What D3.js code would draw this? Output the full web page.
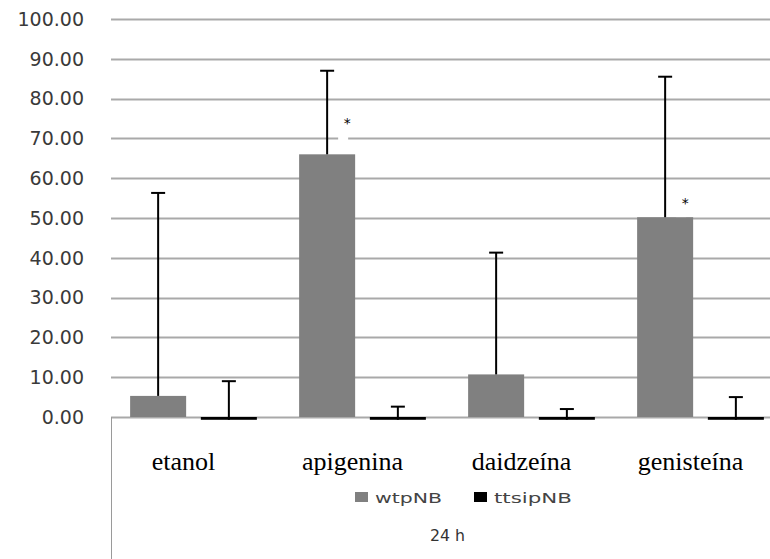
<!DOCTYPE html>
<html>
<head>
<meta charset="utf-8">
<script src="https://cdn.jsdelivr.net/npm/d3@7"></script>
<style>
  html, body { margin: 0; padding: 0; background: #fff; }
  svg { display: block; }
</style>
</head>
<body>
<svg id="chart" width="770" height="559"></svg>
<script>
// ── Data ─────────────────────────────────────────────────────────────
const categories = ['etanol', 'apigenina', 'daidzeína', 'genisteína'];
const series = ['wtpNB', 'ttsipNB'];
const wtpNB = [5.3, 66.0, 10.7, 50.2];
const wtpErr = [51.0, 21.0, 30.6, 35.3];
const ttsipNB = [-0.7, -0.7, -0.7, -0.7];
const ttsipErr = [9.7, 3.3, 2.7, 5.7];
const signif = ['', '*', '', '*'];      // marks over wtpNB bars
const signifAt = [null, 74, null, 54];  // height of the mark (data units)
const yTicks = [0, 10, 20, 30, 40, 50, 60, 70, 80, 90, 100];
const timeLabel = '24 h';

// ── Layout ───────────────────────────────────────────────────────────
const svg = d3.select('#chart');
const W = 770, H = 559;
const left = 111, y0px = 417, yTop = 19;
const colors = { wtpNB: '#808080', ttsipNB: '#000000' };

const y = d3.scaleLinear().domain([0, 100]).range([y0px, yTop]);
const x = d3.scaleBand().domain(categories).range([109, 785])
  .paddingInner(0.25).paddingOuter(0.125);
const x1 = d3.scaleBand().domain(series).range([0, x.bandwidth()])
  .paddingInner(0.208);

const rows = categories.map((c, i) => ({
  cat: c,
  bars: [
    { key: 'wtpNB', v: wtpNB[i], e: wtpErr[i] },
    { key: 'ttsipNB', v: ttsipNB[i], e: ttsipErr[i] }
  ],
  mark: signif[i], markAt: signifAt[i]
}));

// gridlines
svg.append('g').selectAll('line')
  .data(yTicks)
  .join('line')
  .attr('x1', left).attr('x2', W)
  .attr('y1', d => Math.round(y(d)) + 0.5)
  .attr('y2', d => Math.round(y(d)) + 0.5)
  .attr('stroke', '#a9a9a9')
  .attr('stroke-width', 2);

// y labels
svg.append('g').selectAll('text')
  .data(yTicks)
  .join('text')
  .attr('x', 84)
  .attr('y', d => y(d))
  .attr('dy', '0.36em')
  .attr('text-anchor', 'end')
  .attr('font-family', 'DejaVu Sans')
  .attr('font-size', 19)
  .attr('fill', '#3a3a3a')
  .text(d => d3.format('.2f')(d));

// white label boxes behind the significance marks
const marks = rows.filter(r => r.mark);
svg.append('g').selectAll('rect')
  .data(marks)
  .join('rect')
  .attr('x', d => x(d.cat) + x1('wtpNB') + x1.bandwidth() - 17)
  .attr('y', d => y(d.markAt) - 10)
  .attr('width', 10)
  .attr('height', 28)
  .attr('fill', '#fff');

// bars
const groups = svg.append('g').selectAll('g')
  .data(rows)
  .join('g')
  .attr('transform', d => `translate(${x(d.cat)},0)`);

groups.selectAll('rect')
  .data(d => d.bars)
  .join('rect')
  .attr('x', d => x1(d.key))
  .attr('y', d => y(Math.max(0, d.v)))
  .attr('width', x1.bandwidth())
  .attr('height', d => Math.abs(y(d.v) - y(0)))
  .attr('fill', d => colors[d.key]);

// error bars
const err = groups.selectAll('g.err')
  .data(d => d.bars)
  .join('g')
  .attr('class', 'err')
  .attr('transform', d => `translate(${x1(d.key) + x1.bandwidth() / 2},0)`);

err.append('line')
  .attr('x1', 0).attr('x2', 0)
  .attr('y1', d => y(d.v))
  .attr('y2', d => y(d.v + d.e))
  .attr('stroke', '#000')
  .attr('stroke-width', 2);

err.append('line')
  .attr('x1', -7).attr('x2', 7)
  .attr('y1', d => y(d.v + d.e))
  .attr('y2', d => y(d.v + d.e))
  .attr('stroke', '#000')
  .attr('stroke-width', 2);

// significance marks
svg.append('g').selectAll('text')
  .data(marks)
  .join('text')
  .attr('x', d => x(d.cat) + x1('wtpNB') + x1.bandwidth() - 8)
  .attr('y', d => y(d.markAt) + 6)
  .attr('text-anchor', 'middle')
  .attr('font-family', 'DejaVu Sans')
  .attr('font-size', 14)
  .attr('fill', '#000')
  .text(d => d.mark);

// box under the axis
svg.append('line')
  .attr('x1', left + 0.5).attr('x2', left + 0.5)
  .attr('y1', y0px).attr('y2', H)
  .attr('stroke', '#9a9a9a')
  .attr('stroke-width', 1);

// category labels
svg.append('g').selectAll('text')
  .data(categories)
  .join('text')
  .attr('x', d => x(d) + x.bandwidth() / 2 - 10)
  .attr('y', 470)
  .attr('text-anchor', 'middle')
  .attr('font-family', 'Liberation Serif')
  .attr('font-size', 26)
  .attr('fill', '#000')
  .text(d => d);

// legend
const legend = svg.append('g');
const legX = { wtpNB: 355, ttsipNB: 474 };
const legW = { wtpNB: 67, ttsipNB: 78 };
series.forEach(s => {
  legend.append('rect')
    .attr('x', legX[s]).attr('y', 492)
    .attr('width', 13).attr('height', 10)
    .attr('fill', colors[s]);
  legend.append('text')
    .attr('x', legX[s] + 20).attr('y', 503)
    .attr('font-family', 'DejaVu Sans')
    .attr('font-size', 14)
    .attr('fill', '#444')
    .attr('textLength', legW[s])
    .attr('lengthAdjust', 'spacingAndGlyphs')
    .text(s);
});

svg.append('text')
  .attr('x', 430).attr('y', 541)
  .attr('font-family', 'DejaVu Sans')
  .attr('font-size', 16)
  .attr('fill', '#333')
  .attr('textLength', 35)
  .attr('lengthAdjust', 'spacingAndGlyphs')
  .text(timeLabel);
</script>
</body>
</html>
